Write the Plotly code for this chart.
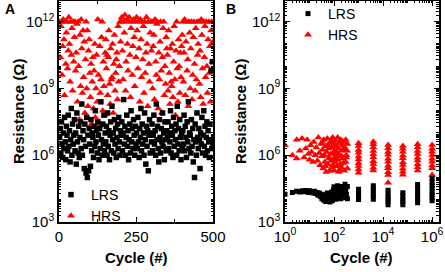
import plotly.graph_objects as go

# ---------------- Panel A data (cycle index, log10 resistance) ----------------
cycles_a = list(range(2, 501, 2))

hrs_a_log = [
    12.0, 10.4, 11.8, 12.0, 9.6, 10.9, 12.1, 11.2, 8.7, 12.0, 10.1, 11.5, 12.0, 9.9, 10.7, 12.2, 11.0, 9.3, 12.0, 10.5, 11.7, 8.9, 12.0, 10.2, 11.3,
    12.0, 9.8, 10.6, 11.9, 8.4, 12.0, 10.0, 7.6, 11.4, 9.1, 12.1, 10.8, 8.8, 11.6, 9.5, 11.1, 7.9, 10.3, 12.0, 9.0, 11.6, 8.2, 10.7, 11.2, 9.7,
    8.6, 10.1, 7.4, 9.3, 10.4, 8.1, 9.8, 11.0, 7.7, 9.0, 10.5, 8.4, 12.1, 9.6, 7.3, 10.9, 8.8, 9.4, 11.3, 12.0, 8.0, 10.2, 9.1, 7.8, 10.6,
    11.2, 9.9, 10.5, 8.7, 10.4, 11.6, 9.2, 8.3, 10.8, 9.4, 9.5, 11.0, 7.9, 10.1, 11.4, 8.9, 9.7, 10.3, 10.6, 8.5, 11.8, 9.3, 10.0, 12.0, 11.1,
    12.0, 12.2, 10.7, 9.4, 12.0, 11.5, 12.3, 8.9, 10.2, 12.1, 11.0, 9.8, 12.0, 12.2, 10.5, 8.6, 11.7, 12.0, 9.6, 10.9, 12.1, 11.3, 9.1, 12.0, 10.4,
    12.2, 11.6, 9.9, 12.0, 10.8, 8.4, 12.1, 11.2, 9.5, 12.0, 10.3, 11.8, 8.8, 12.0, 9.7, 10.6, 12.2, 11.0, 8.2, 12.0, 10.1, 9.3, 11.5, 12.0, 10.7,
    12.0, 9.0, 10.9, 11.4, 8.5, 12.1, 10.2, 9.6, 11.9, 12.0, 8.1, 10.6, 9.4, 11.1, 12.0, 9.8, 7.9, 10.4, 11.7, 12.0, 8.7, 10.0, 9.2, 11.3, 10.8,
    10.5, 8.9, 11.6, 9.7, 8.3, 10.8, 9.3, 9.1, 11.0, 8.6, 10.2, 11.8, 9.4, 7.8, 10.7, 12.0, 9.9, 8.4, 11.2, 10.0, 8.8, 10.6, 9.5, 10.9, 11.4,
    12.0, 9.3, 10.6, 12.1, 8.7, 11.1, 12.0, 9.8, 10.3, 8.2, 12.0, 11.5, 9.0, 10.8, 12.0, 8.5, 9.6, 11.3, 12.0, 10.1, 8.9, 11.7, 9.4, 12.0, 10.5,
    11.0, 12.0, 9.2, 10.7, 8.6, 12.1, 11.4, 9.9, 8.3, 12.0, 10.4, 11.8, 9.5, 12.0, 10.0, 8.8, 11.2, 12.0, 9.7, 10.9, 8.4, 11.6, 12.0, 10.2, 11.1,
]

lrs_a_log = [
    6.8, 7.2, 6.1, 7.5, 6.5, 5.9, 7.0, 6.3, 7.7, 6.6, 5.8, 7.3, 6.9, 6.2, 7.8, 6.4, 7.1, 5.7, 6.7, 8.1, 6.0, 7.4, 6.5, 6.9, 7.6,
    6.2, 7.0, 5.6, 7.9, 6.6, 6.1, 7.3, 5.9, 6.8, 7.5, 6.3, 8.3, 6.0, 7.1, 6.7, 5.4, 7.4, 6.4, 5.2, 7.7, 5.0, 6.9, 5.3, 7.2, 6.5,
    5.5, 7.6, 6.2, 7.0, 6.8, 5.9, 7.3, 6.4, 8.0, 6.6, 7.1, 6.1, 7.5, 6.9, 5.8, 7.2, 6.3, 8.4, 6.7, 6.0, 7.4, 6.5, 7.8, 6.2, 7.0,
    6.6, 7.3, 6.0, 7.9, 6.4, 7.1, 5.8, 6.9, 7.5, 6.2, 8.2, 6.7, 7.0, 6.1, 7.6, 6.5, 7.2, 5.9, 6.8, 7.4, 6.3, 7.7, 6.6, 6.0, 7.1,
    6.9, 7.5, 6.2, 7.0, 8.5, 6.5, 7.3, 6.0, 6.8, 7.8, 6.4, 7.1, 5.8, 6.7, 7.4, 6.1, 8.0, 6.6, 7.2, 6.3, 7.6, 6.9, 6.0, 7.3, 6.5,
    7.0, 6.3, 7.7, 6.6, 5.9, 7.2, 6.8, 8.1, 6.2, 7.4, 6.5, 7.0, 6.0, 7.9, 6.7, 5.6, 7.3, 6.4, 7.1, 5.3, 6.9, 7.6, 6.1, 7.0, 6.6,
    7.4, 6.2, 6.9, 7.8, 6.5, 7.1, 6.0, 8.3, 6.7, 7.3, 6.3, 5.7, 7.6, 6.8, 6.1, 7.2, 6.6, 7.9, 6.4, 7.0, 5.8, 7.5, 6.7, 6.2, 7.1,
    6.8, 7.5, 6.3, 7.0, 6.6, 8.0, 6.1, 7.3, 6.9, 5.9, 7.7, 6.4, 7.1, 6.7, 7.4, 6.0, 8.2, 6.5, 7.2, 6.2, 7.6, 6.8, 5.8, 7.0, 6.4,
    7.1, 6.5, 7.8, 6.2, 7.3, 6.8, 5.9, 7.5, 6.6, 8.4, 6.3, 7.0, 6.9, 6.1, 7.6, 6.4, 7.2, 5.7, 6.7, 5.0, 7.4, 6.6, 6.0, 7.9, 6.8,
    6.3, 7.2, 6.7, 5.4, 7.0, 6.5, 7.7, 6.1, 6.9, 8.0, 6.4, 7.3, 6.0, 6.8, 7.5, 6.2, 7.1, 6.6, 5.9, 7.4, 6.7, 9.8, 6.3, 10.2, 6.5,
]

# ---------------- Panel B data (cycle number, log10 resistance) ----------------
cycles_b_lrs = [
    1, 2, 3, 4, 5, 6, 7, 8, 9, 10, 12, 14, 16, 18, 20, 22, 25, 28, 30, 32, 35, 38, 40, 43, 46,
    50, 53, 56, 60, 64, 68, 72, 76, 80, 85, 90, 95, 100, 100, 110, 120, 120, 130, 140, 150, 150,
    160, 170, 180, 190, 200, 200, 220, 240, 250, 260, 280, 300, 300, 320, 350, 350,
    1000, 1000, 1000, 1000, 1000,
    4000, 4000, 4000, 4000, 4000, 4000,
    16000, 16000, 16000, 16000, 16000, 16000,
    64000, 64000, 64000, 64000, 64000,
    256000, 256000, 256000, 256000, 256000, 256000, 256000,
    1000000, 1000000, 1000000, 1000000, 1000000, 1000000, 1000000, 1000000,
]
lrs_b_log = [
    4.25, 4.33, 4.38, 4.35, 4.40, 4.36, 4.42, 4.38, 4.33, 4.40, 4.36, 4.30, 4.38, 4.28, 4.33, 4.20, 4.30, 4.15, 4.25, 4.05, 4.18, 3.98, 4.22, 4.05, 3.92,
    4.15, 4.30, 3.95, 4.10, 4.28, 3.90, 4.20, 4.05, 4.35, 3.95, 4.22, 4.45, 4.10, 4.58, 4.30, 4.02, 4.50, 4.25, 4.63, 4.10, 4.40,
    4.55, 4.20, 4.35, 4.05, 4.60, 4.25, 4.45, 4.15, 4.55, 4.30, 4.70, 4.10, 4.45, 4.25, 4.60, 4.05,
    4.01, 4.13, 4.22, 4.36, 4.47,
    4.02, 4.16, 4.27, 4.41, 4.52, 4.63,
    3.77, 3.91, 4.03, 4.14, 4.29, 4.43,
    3.78, 3.91, 4.02, 4.17, 4.31,
    3.87, 4.01, 4.12, 4.27, 4.38, 4.53, 4.69,
    3.96, 4.09, 4.24, 4.35, 4.51, 4.64, 4.79, 4.96,
]

cycles_b_hrs = [
    1, 2, 3, 3, 4, 5, 6, 7, 8, 9, 10, 11, 12, 14, 15, 17, 19, 21, 23, 25, 27, 30, 32, 34, 36,
    38, 40, 42, 45, 48, 50, 53, 56, 60, 63, 66, 70, 73, 76, 80, 84, 88, 92, 96, 100, 100,
    105, 110, 115, 120, 125, 130, 135, 140, 145, 150, 155, 160, 170, 180, 190, 200, 200,
    215, 230, 245, 260, 280, 300, 300, 320, 350, 350,
    33, 44, 55, 65, 78, 90, 112, 128, 148, 165, 185, 210, 240, 270, 310, 340,
    1000, 1000, 1000, 1000, 1000, 1000, 1000, 1000, 1000, 1000,
    4000, 4000, 4000, 4000, 4000, 4000, 4000, 4000, 4000, 4000,
    16000, 16000, 16000, 16000, 16000, 16000, 16000, 16000, 16000, 16000, 16000,
    64000, 64000, 64000, 64000, 64000, 64000, 64000, 64000, 64000, 64000,
    256000, 256000, 256000, 256000, 256000, 256000, 256000, 256000, 256000,
    1000000, 1000000, 1000000, 1000000, 1000000, 1000000, 1000000, 1000000, 1000000,
]
hrs_b_log = [
    6.45, 6.00, 6.70, 5.85, 6.20, 6.75, 5.90, 6.30, 6.70, 6.05, 5.80, 6.45, 6.15, 5.70, 6.60, 6.00, 6.35, 5.75, 6.80, 6.10, 5.55, 6.50, 5.95, 6.25, 5.40,
    6.70, 6.00, 5.70, 6.40, 5.25, 6.15, 6.75, 5.60, 6.30, 5.90, 5.30, 6.55, 6.05, 5.75, 6.35, 5.45, 6.80, 6.10, 5.85, 6.50, 5.30,
    6.20, 5.70, 6.65, 5.95, 6.40, 5.50, 6.10, 6.80, 5.80, 6.30, 5.25, 6.55, 6.00, 5.60, 6.70, 6.20, 5.45,
    6.45, 5.85, 6.60, 5.30, 6.25, 6.70, 5.70, 6.00, 6.50, 5.40,
    6.60, 5.50, 6.45, 5.85, 6.65, 5.55, 6.40, 5.80, 6.05, 5.35, 6.55, 5.95, 5.65, 6.35, 5.90, 6.20,
    5.21, 5.36, 5.52, 5.64, 5.81, 5.94, 6.11, 6.24, 6.41, 6.54,
    5.31, 5.44, 5.61, 5.73, 5.91, 6.04, 6.19, 6.36, 6.49, 6.61,
    4.76, 5.11, 5.24, 5.41, 5.53, 5.71, 5.84, 6.02, 6.14, 6.31, 6.46,
    5.12, 5.26, 5.39, 5.56, 5.69, 5.86, 5.99, 6.16, 6.29, 6.41,
    5.31, 5.46, 5.59, 5.76, 5.89, 6.06, 6.19, 6.36, 6.49,
    5.11, 5.41, 5.54, 5.71, 5.84, 6.01, 6.16, 6.29, 6.46,
]

hrs_a = [10 ** v for v in hrs_a_log]
lrs_a = [10 ** v for v in lrs_a_log]
hrs_b = [10 ** v for v in hrs_b_log]
lrs_b = [10 ** v for v in lrs_b_log]

y_tickvals = [1e3, 1e6, 1e9, 1e12]
y_ticktext = ["10<sup>3</sup>", "10<sup>6</sup>", "10<sup>9</sup>", "10<sup>12</sup>"]
xa_tickvals = [0, 250, 500]
xa_ticktext = ["0", "250", "500"]
xb_tickvals = [1, 1e2, 1e4, 1e6]
xb_ticktext = ["10<sup>0</sup>", "10<sup>2</sup>", "10<sup>4</sup>", "10<sup>6</sup>"]

FONT = "Liberation Sans, Arial, sans-serif"
RED = "#ff0000"
BLACK = "#000000"

fig = go.Figure()

# Panel A
fig.add_trace(go.Scatter(x=cycles_a, y=hrs_a, mode="markers", name="HRS",
                         marker=dict(symbol="triangle-up", size=7, color=RED),
                         xaxis="x", yaxis="y", legend="legend"))
fig.add_trace(go.Scatter(x=cycles_a, y=lrs_a, mode="markers", name="LRS",
                         marker=dict(symbol="square", size=5.5, color=BLACK),
                         xaxis="x", yaxis="y", legend="legend"))
# Panel B
fig.add_trace(go.Scatter(x=cycles_b_hrs, y=hrs_b, mode="markers", name="HRS",
                         marker=dict(symbol="triangle-up", size=7, color=RED),
                         xaxis="x2", yaxis="y2", legend="legend2"))
fig.add_trace(go.Scatter(x=cycles_b_lrs, y=lrs_b, mode="markers", name="LRS",
                         marker=dict(symbol="square", size=5, color=BLACK),
                         xaxis="x2", yaxis="y2", legend="legend2"))

y_dom = [50 / 272, 271 / 272]
common_ax = dict(showline=True, linecolor=BLACK, linewidth=1.5, mirror="ticks",
                 ticks="inside", ticklen=5, tickwidth=1.2, tickcolor=BLACK,
                 showgrid=False, zeroline=False, automargin=False,
                 tickfont=dict(family=FONT, size=15, color=BLACK))

yaxis_common = dict(common_ax, type="log", range=[3, 12.93],
                    tickvals=y_tickvals, ticktext=y_ticktext,
                    minor=dict(ticks="inside", ticklen=2.5, tickwidth=1, tickcolor=BLACK, dtick="D1"))

legend_common = dict(xanchor="left", yanchor="top", traceorder="reversed",
                     bgcolor="rgba(0,0,0,0)", itemwidth=30, tracegroupgap=0,
                     font=dict(family=FONT, size=14, color=BLACK))

fig.update_layout(
    width=445, height=272,
    margin=dict(l=0, r=0, t=0, b=0, autoexpand=False),
    paper_bgcolor="white", plot_bgcolor="white",
    showlegend=True,
    font=dict(family=FONT, color=BLACK),
    xaxis=dict(common_ax, domain=[59 / 445, 213 / 445], range=[0, 500],
               tickvals=xa_tickvals, ticktext=xa_ticktext, anchor="y",
               minor=dict(ticks="inside", ticklen=3, tickwidth=1, tickcolor=BLACK, dtick=125)),
    yaxis=dict(yaxis_common, domain=y_dom, anchor="x"),
    xaxis2=dict(common_ax, type="log", domain=[285 / 445, 438.5 / 445], range=[0, 6.26],
                tickvals=xb_tickvals, ticktext=xb_ticktext, anchor="y2",
                minor=dict(ticks="inside", ticklen=2.5, tickwidth=1, tickcolor=BLACK, dtick="D1")),
    yaxis2=dict(yaxis_common, domain=y_dom, anchor="x2"),
    legend=dict(legend_common, x=51 / 445, y=1 - 179 / 272),
    legend2=dict(legend_common, x=288 / 445, y=1 + 2 / 272),
    annotations=[
        dict(text="<b>A</b>", x=3 / 445, y=1 - 9 / 272, xref="paper", yref="paper",
             xanchor="left", yanchor="middle", showarrow=False,
             font=dict(family=FONT, size=14, color=BLACK)),
        dict(text="<b>B</b>", x=224 / 445, y=1 - 9 / 272, xref="paper", yref="paper",
             xanchor="left", yanchor="middle", showarrow=False,
             font=dict(family=FONT, size=14, color=BLACK)),
        dict(text="<b>Resistance (Ω)</b>", x=18 / 445, y=1 - 112 / 272, xref="paper", yref="paper",
             xanchor="center", yanchor="middle", textangle=-90, showarrow=False,
             font=dict(family=FONT, size=15, color=BLACK)),
        dict(text="<b>Resistance (Ω)</b>", x=240 / 445, y=1 - 112 / 272, xref="paper", yref="paper",
             xanchor="center", yanchor="middle", textangle=-90, showarrow=False,
             font=dict(family=FONT, size=15, color=BLACK)),
        dict(text="<b>Cycle (#)</b>", x=136 / 445, y=1 - 257 / 272, xref="paper", yref="paper",
             xanchor="center", yanchor="middle", showarrow=False,
             font=dict(family=FONT, size=15, color=BLACK)),
        dict(text="<b>Cycle (#)</b>", x=361 / 445, y=1 - 257 / 272, xref="paper", yref="paper",
             xanchor="center", yanchor="middle", showarrow=False,
             font=dict(family=FONT, size=15, color=BLACK)),
    ],
)

fig.write_html(
    "out.html",
    config={"displayModeBar": False},
    post_script="document.body.style.margin='0';document.body.style.overflow='hidden';",
)
